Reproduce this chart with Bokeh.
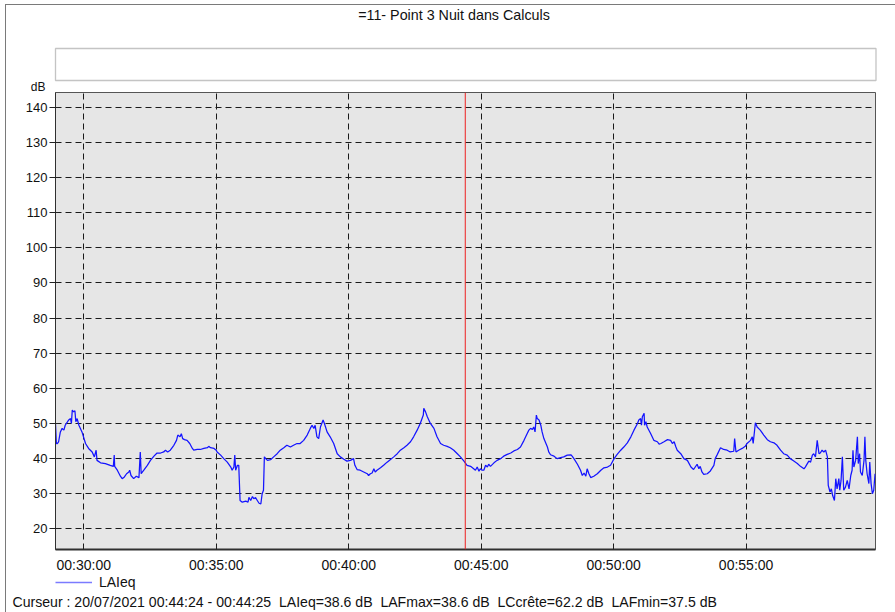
from bokeh.plotting import figure
from bokeh.layouts import column
from bokeh.models import (Range1d, FixedTicker, Span, Label, BoxAnnotation,
                          Legend, LegendItem, ColumnDataSource)
from bokeh.embed import file_html
from bokeh.resources import INLINE

# ---------------- data ----------------
times = [
    "00:28:56", "00:28:58", "00:29:00", "00:29:03", "00:29:07", "00:29:11", "00:29:15", "00:29:18",
    "00:29:26", "00:29:30", "00:29:32", "00:29:34", "00:29:37", "00:29:40", "00:29:42", "00:29:45",
    "00:29:49", "00:29:56", "00:30:04", "00:30:11", "00:30:19", "00:30:24", "00:30:28", "00:30:30",
    "00:30:38", "00:30:49", "00:31:00", "00:31:07", "00:31:09", "00:31:10", "00:31:16", "00:31:23",
    "00:31:27", "00:31:32", "00:31:37", "00:31:42", "00:31:44", "00:31:47", "00:31:53", "00:31:59",
    "00:32:05", "00:32:08", "00:32:10", "00:32:16", "00:32:24", "00:32:31", "00:32:39", "00:32:46",
    "00:32:54", "00:33:01", "00:33:05", "00:33:10", "00:33:16", "00:33:24", "00:33:30", "00:33:33",
    "00:33:38", "00:33:41", "00:33:44", "00:33:48", "00:33:54", "00:34:00", "00:34:06", "00:34:09",
    "00:34:17", "00:34:24", "00:34:32", "00:34:40", "00:34:43", "00:34:47", "00:34:55", "00:35:00",
    "00:35:02", "00:35:10", "00:35:17", "00:35:25", "00:35:33", "00:35:36", "00:35:40", "00:35:42",
    "00:35:44", "00:35:48", "00:35:51", "00:35:54", "00:35:59", "00:36:07", "00:36:12", "00:36:14",
    "00:36:18", "00:36:22", "00:36:25", "00:36:29", "00:36:33", "00:36:37", "00:36:41", "00:36:44",
    "00:36:47", "00:36:49", "00:36:52", "00:36:56", "00:37:03", "00:37:10", "00:37:18", "00:37:25",
    "00:37:33", "00:37:40", "00:37:48", "00:37:55", "00:38:03", "00:38:10", "00:38:18", "00:38:26",
    "00:38:33", "00:38:37", "00:38:41", "00:38:44", "00:38:48", "00:38:52", "00:38:56", "00:39:02",
    "00:39:05", "00:39:11", "00:39:18", "00:39:26", "00:39:34", "00:39:41", "00:39:49", "00:39:56",
    "00:40:04", "00:40:11", "00:40:14", "00:40:19", "00:40:26", "00:40:34", "00:40:42", "00:40:45",
    "00:40:49", "00:40:53", "00:40:57", "00:41:00", "00:41:04", "00:41:12", "00:41:19", "00:41:27",
    "00:41:34", "00:41:42", "00:41:50", "00:41:57", "00:42:05", "00:42:12", "00:42:20", "00:42:27",
    "00:42:35", "00:42:42", "00:42:49", "00:42:50", "00:42:54", "00:42:58", "00:43:05", "00:43:13",
    "00:43:20", "00:43:28", "00:43:35", "00:43:43", "00:43:50", "00:43:58", "00:44:06", "00:44:13",
    "00:44:21", "00:44:28", "00:44:36", "00:44:43", "00:44:47", "00:44:51", "00:44:55", "00:44:58",
    "00:45:02", "00:45:06", "00:45:10", "00:45:14", "00:45:17", "00:45:21", "00:45:29", "00:45:36",
    "00:45:44", "00:45:51", "00:45:59", "00:46:07", "00:46:14", "00:46:22", "00:46:29", "00:46:37",
    "00:46:44", "00:46:48", "00:46:52", "00:46:56", "00:46:59", "00:47:02", "00:47:05", "00:47:07",
    "00:47:11", "00:47:15", "00:47:18", "00:47:22", "00:47:30", "00:47:33", "00:47:37", "00:47:45",
    "00:47:52", "00:48:00", "00:48:07", "00:48:15", "00:48:23", "00:48:26", "00:48:30", "00:48:38",
    "00:48:45", "00:48:49", "00:48:53", "00:48:57", "00:49:00", "00:49:04", "00:49:08", "00:49:15",
    "00:49:23", "00:49:31", "00:49:38", "00:49:46", "00:49:53", "00:50:01", "00:50:08", "00:50:16",
    "00:50:23", "00:50:31", "00:50:39", "00:50:46", "00:50:54", "00:50:57", "00:51:01", "00:51:03",
    "00:51:05", "00:51:09", "00:51:10", "00:51:13", "00:51:16", "00:51:24", "00:51:31", "00:51:39",
    "00:51:43", "00:51:47", "00:51:54", "00:52:02", "00:52:09", "00:52:13", "00:52:17", "00:52:21",
    "00:52:24", "00:52:32", "00:52:39", "00:52:47", "00:52:55", "00:53:01", "00:53:09", "00:53:13",
    "00:53:16", "00:53:20", "00:53:24", "00:53:32", "00:53:39", "00:53:47", "00:53:50", "00:53:54",
    "00:54:02", "00:54:09", "00:54:17", "00:54:24", "00:54:32", "00:54:34", "00:54:37", "00:54:43",
    "00:54:51", "00:54:58", "00:55:02", "00:55:10", "00:55:14", "00:55:16", "00:55:21", "00:55:25",
    "00:55:32", "00:55:40", "00:55:48", "00:55:55", "00:56:03", "00:56:10", "00:56:18", "00:56:25",
    "00:56:33", "00:56:40", "00:56:48", "00:56:56", "00:57:03", "00:57:11", "00:57:14", "00:57:22",
    "00:57:26", "00:57:30", "00:57:33", "00:57:37", "00:57:41", "00:57:45", "00:57:48", "00:57:52",
    "00:57:56", "00:58:00", "00:58:04", "00:58:06", "00:58:10", "00:58:13", "00:58:16", "00:58:20",
    "00:58:23", "00:58:26", "00:58:30", "00:58:32", "00:58:35", "00:58:38", "00:58:41", "00:58:45",
    "00:58:49", "00:58:53", "00:58:57", "00:59:00", "00:59:02", "00:59:04", "00:59:08", "00:59:12",
    "00:59:14", "00:59:17", "00:59:19", "00:59:23", "00:59:27", "00:59:29", "00:59:31", "00:59:34",
    "00:59:38", "00:59:40", "00:59:43", "00:59:46", "00:59:49", "00:59:52",
]
laeq = [
    50.0, 44.3, 44.3, 44.8, 47.6, 48.6, 48.1, 49.5,
    51.0, 51.4, 50.0, 53.8, 53.3, 53.6, 50.5, 51.4,
    49.5, 47.6, 44.3, 42.9, 41.9, 40.5, 42.4, 39.5,
    38.8, 38.6, 38.1, 37.8, 41.0, 37.8, 36.7, 35.0,
    34.3, 34.8, 35.7, 36.2, 36.7, 35.2, 34.3, 35.0,
    34.6, 41.9, 35.7, 36.7, 38.1, 39.5, 40.7, 41.6,
    41.6, 41.9, 42.4, 41.9, 42.4, 43.8, 45.2, 46.7,
    46.2, 47.1, 45.7, 45.4, 45.2, 44.3, 42.9, 42.4,
    42.6, 42.6, 42.9, 43.1, 43.5, 43.1, 42.9, 42.4,
    41.9, 41.0, 40.0, 39.0, 37.6, 36.7, 37.6, 41.0,
    36.7, 38.1, 38.1, 28.1, 27.6, 27.9, 27.6, 29.0,
    28.1, 29.2, 28.6, 28.9, 28.1, 27.3, 27.1, 30.0,
    31.0, 40.5, 40.0, 39.5, 39.7, 40.5, 41.4, 42.4,
    43.1, 43.8, 43.3, 43.8, 44.3, 44.3, 45.2, 46.7,
    48.6, 49.5, 48.6, 49.5, 46.2, 45.7, 49.0, 51.0,
    50.0, 47.6, 46.2, 44.3, 41.4, 40.5, 39.8, 39.3,
    39.5, 40.0, 38.1, 36.9, 36.7, 36.2, 35.7, 35.2,
    35.7, 35.9, 37.1, 36.2, 36.7, 37.4, 38.1, 39.0,
    39.7, 40.5, 41.4, 42.4, 43.1, 43.8, 44.8, 46.2,
    48.1, 50.0, 52.4, 54.3, 53.3, 51.9, 50.0, 48.6,
    46.2, 44.3, 43.8, 43.5, 43.1, 42.4, 41.4, 40.5,
    39.3, 38.1, 37.8, 37.1, 36.7, 37.6, 36.4, 37.1,
    36.7, 36.7, 38.1, 37.6, 38.4, 37.8, 38.8, 39.5,
    40.0, 40.7, 41.2, 41.6, 42.2, 42.6, 43.3, 45.2,
    47.1, 48.1, 48.6, 48.3, 49.0, 47.6, 52.4, 51.4,
    51.0, 49.5, 47.6, 45.7, 43.3, 41.9, 41.1, 40.7,
    40.0, 40.3, 40.5, 41.0, 41.1, 40.7, 40.0, 38.4,
    36.7, 35.2, 35.9, 35.0, 37.1, 35.7, 34.6, 35.0,
    35.7, 36.7, 37.4, 37.6, 38.1, 40.0, 41.2, 42.4,
    43.3, 44.5, 46.2, 48.1, 50.0, 51.0, 51.4, 49.5,
    51.9, 52.9, 49.5, 50.5, 49.0, 47.1, 45.2, 44.8,
    44.1, 44.3, 44.8, 45.4, 45.2, 44.3, 44.8, 43.3,
    42.4, 41.4, 40.0, 39.5, 37.6, 36.9, 38.4, 37.1,
    37.8, 36.2, 35.5, 35.7, 36.5, 38.1, 40.0, 41.0,
    43.1, 42.6, 42.4, 41.9, 42.1, 45.7, 41.9, 42.4,
    42.9, 43.5, 44.3, 45.2, 46.2, 44.3, 50.2, 49.0,
    48.1, 46.7, 45.4, 44.8, 44.5, 43.8, 42.4, 41.4,
    41.0, 40.0, 39.3, 38.6, 37.8, 37.1, 37.6, 39.3,
    39.0, 41.0, 41.4, 40.5, 45.2, 41.4, 41.6, 42.4,
    41.9, 42.4, 40.5, 32.4, 30.5, 31.4, 29.5, 28.1,
    34.3, 31.4, 34.3, 31.0, 33.8, 40.5, 31.0, 31.9,
    33.8, 31.4, 35.2, 36.7, 42.4, 37.6, 39.5, 46.2,
    38.6, 41.4, 36.2, 35.2, 39.5, 46.2, 39.5, 35.7,
    32.9, 39.0, 32.9, 30.0, 31.0, 35.7,
]
x_tick_labels = ["00:30:00", "00:35:00", "00:40:00", "00:45:00", "00:50:00", "00:55:00"]
y_ticks = [20, 30, 40, 50, 60, 70, 80, 90, 100, 110, 120, 130, 140]
x_start, x_end = "00:28:56", "00:59:53"
y_start, y_end = 14.15, 144.15
cursor_time = "00:44:24"
series_name = "LAIeq"
unit_label = "dB"
title_text = "=11- Point 3 Nuit dans Calculs"
cursor_fields = ["Curseur : 20/07/2021 00:44:24 - 00:44:25", "LAIeq=38.6 dB",
                 "LAFmax=38.6 dB", "LCcr\u00eate=62.2 dB", "LAFmin=37.5 dB"]


def to_s(t):
    h, m, s = (int(v) for v in t.split(":"))
    return h * 3600 + m * 60 + s


FONT = "Liberation Sans"
TXT = "#111111"
W = 895
H_TOP, H_MAIN, H_BOT = 92, 483, 37


def blank(height):
    f = figure(width=W, height=height, output_backend="svg", toolbar_location=None,
               x_axis_type=None, y_axis_type=None,
               x_range=Range1d(0, 1), y_range=Range1d(0, 1),
               min_border=0, min_border_left=0, min_border_right=0,
               min_border_top=0, min_border_bottom=0)
    f.outline_line_color = None
    f.background_fill_color = "white"
    f.border_fill_color = "white"
    f.grid.visible = False
    f.frame_align = False
    return f


def sbox(**kw):
    return BoxAnnotation(left_units="screen", right_units="screen",
                         bottom_units="screen", top_units="screen", **kw)


# ---------------- top strip: title, empty box, unit ----------------
top = blank(H_TOP)
top.add_layout(sbox(left=55, right=875.5, bottom=H_TOP - 80, top=H_TOP - 48,
                    fill_color="white", fill_alpha=1,
                    line_color="#3a3a3a", line_width=1.3))
top.add_layout(Label(x=453.5, y=H_TOP - 14, x_units="screen", y_units="screen",
                     text=title_text, text_align="center", text_baseline="middle",
                     text_font=FONT, text_font_size="14.3px", text_color=TXT))
top.add_layout(Label(x=45, y=H_TOP - 86, x_units="screen", y_units="screen",
                     text=unit_label, text_align="right", text_baseline="middle",
                     text_font=FONT, text_font_size="12px", text_color=TXT))

# ---------------- main plot ----------------
src = ColumnDataSource(dict(t=[to_s(t) for t in times], v=laeq))

p = figure(width=W, height=H_MAIN, output_backend="svg", toolbar_location=None,
           x_range=Range1d(to_s(x_start), to_s(x_end)),
           y_range=Range1d(y_start, y_end),
           min_border_left=55, min_border_right=20, min_border_top=0,
           min_border_bottom=26)
p.frame_align = False
p.background_fill_color = "#e6e6e6"
p.border_fill_color = "white"
p.outline_line_color = "#555555"

p.line("t", "v", source=src, line_color="#1414ff", line_width=1.25)

p.add_layout(Span(location=to_s(cursor_time), dimension="height",
                  line_color="#ee2222", line_width=1))

xt = [to_s(t) for t in x_tick_labels]
p.xaxis.ticker = FixedTicker(ticks=xt)
p.xaxis.major_label_overrides = {k: lab for k, lab in zip(xt, x_tick_labels)}
p.yaxis.ticker = FixedTicker(ticks=y_ticks)
for ax in (p.xaxis[0], p.yaxis[0]):
    ax.major_label_text_font = FONT
    ax.major_label_text_color = TXT
    ax.minor_tick_line_color = None
    ax.major_tick_line_color = "#222222"
p.xaxis.major_label_text_font_size = "14px"
p.yaxis.major_label_text_font_size = "13px"
p.xaxis.major_tick_in = 4
p.xaxis.major_tick_out = 0
p.xaxis.major_label_standoff = 7
p.xaxis.axis_line_width = 2
p.xaxis.axis_line_color = "#303030"
p.yaxis.major_tick_in = 3
p.yaxis.major_tick_out = 6
p.yaxis.major_label_standoff = 2
p.yaxis.axis_line_color = "#303030"

for g in (p.xgrid[0], p.ygrid[0]):
    g.grid_line_color = "#1a1a1a"
    g.grid_line_dash = "6 4"
    g.grid_line_width = 1

# ---------------- bottom strip: legend and cursor text ----------------
bot = blank(H_BOT)
nan = float("nan")
proxy = bot.line([nan, nan], [nan, nan], line_color="#7b7bff", line_width=1.3)
legend = Legend(items=[LegendItem(label=series_name, renderers=[proxy])],
                location=(55, 22), orientation="horizontal", padding=0, margin=0,
                spacing=0, border_line_color=None, background_fill_alpha=0,
                glyph_width=37, glyph_height=14, label_height=14,
                label_standoff=7, label_text_font=FONT,
                label_text_font_size="14px", label_text_color=TXT)
bot.add_layout(legend)
bot.add_layout(Label(x=12, y=H_BOT - 26, x_units="screen", y_units="screen",
                     text="\u00a0 ".join(cursor_fields), text_align="left",
                     text_baseline="middle", text_font=FONT,
                     text_font_size="14.1px", text_color=TXT))

frame_css = """
:host { position: relative; }
:host::after {
  content: ""; position: absolute; left: 5px; top: 4px; right: 0; bottom: 0;
  border-left: 1.5px solid #7a7a7a; border-top: 1.5px solid #7a7a7a;
  pointer-events: none; z-index: 50;
}
"""
layout = column(top, p, bot, spacing=0, stylesheets=[frame_css])
open("out.html", "w").write(file_html(layout, INLINE))
